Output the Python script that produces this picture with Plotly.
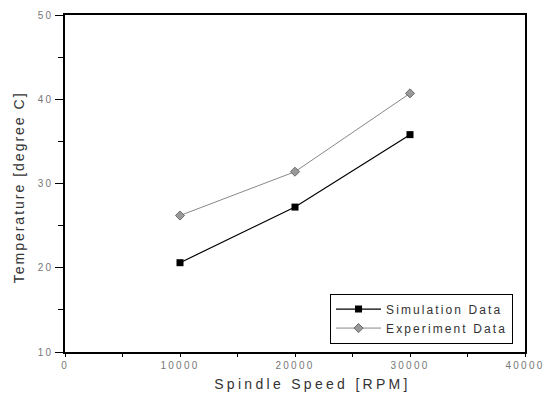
import plotly.graph_objects as go

speed = [10000, 20000, 30000]
simulation = [20.6, 27.2, 35.8]
experiment = [26.2, 31.4, 40.7]
x_ticks = [0, 10000, 20000, 30000, 40000]
x_tick_labels = ["0", "10000", "20000", "30000", "40000"]
y_ticks = [10, 20, 30, 40, 50]
y_tick_labels = ["10", "20", "30", "40", "50"]


def spaced(text, px):
    return f"<span style='letter-spacing:{px}px'>{text}</span>"


fig = go.Figure()
fig.add_trace(go.Scatter(
    x=speed, y=simulation, name=spaced("Simulation Data", 2.1), mode="lines+markers",
    line=dict(color="black", width=1.2),
    marker=dict(symbol="square", size=7, color="black"),
))
fig.add_trace(go.Scatter(
    x=speed, y=experiment, name=spaced("Experiment Data", 2.1), mode="lines+markers",
    line=dict(color="#888888", width=1),
    marker=dict(symbol="diamond", size=7, color="#999999", line=dict(color="#555555", width=0.8)),
))

axis_common = dict(
    showline=True, linecolor="#000000", linewidth=1.5, mirror=True,
    showgrid=False, zeroline=False, automargin=False,
    ticks="outside", tickcolor="#000000", tickwidth=1.2,
    tickfont=dict(family="Arial, Liberation Sans", size=10, color="#777777"),
    title_font=dict(family="Arial, Liberation Sans", size=14, color="#333333"),
)
fig.update_xaxes(
    range=[0, 40000], tickmode="array", tickvals=x_ticks,
    ticktext=[spaced(t, 2.2) for t in x_tick_labels], ticklen=3,
    minor=dict(ticks="outside", ticklen=3, tickvals=[5000, 15000, 25000, 35000],
               tickcolor="#000000", showgrid=False),
    title_text="&nbsp;" * 9 + spaced("Spindle Speed [RPM]", 3.3), title_standoff=9,
    **axis_common,
)
fig.update_yaxes(
    range=[10, 50], tickmode="array", tickvals=y_ticks,
    ticktext=[spaced(t, 2.2) for t in y_tick_labels], ticklen=8,
    minor=dict(ticks="outside", ticklen=5, tickvals=[15, 25, 35, 45],
               tickcolor="#000000", showgrid=False),
    title_text=spaced("Temperature [degree C]", 2.0) + "&nbsp;" * 2, title_standoff=10,
    **axis_common,
)
fig.update_layout(
    width=555, height=401,
    margin=dict(l=65, r=30, t=15, b=49),
    plot_bgcolor="white", paper_bgcolor="white",
    font=dict(family="Arial, Liberation Sans", color="#333333"),
    legend=dict(
        x=0.974, y=0.025, xanchor="right", yanchor="bottom",
        bordercolor="#000000", borderwidth=1, bgcolor="white",
        font=dict(size=12, color="#333333"),
        itemwidth=45, tracegroupgap=0,
    ),
)
fig.write_html(
    "out.html",
    config={"displayModeBar": False},
    post_script="document.body.style.margin='0';document.body.style.padding='0';document.body.style.overflow='hidden';",
)
